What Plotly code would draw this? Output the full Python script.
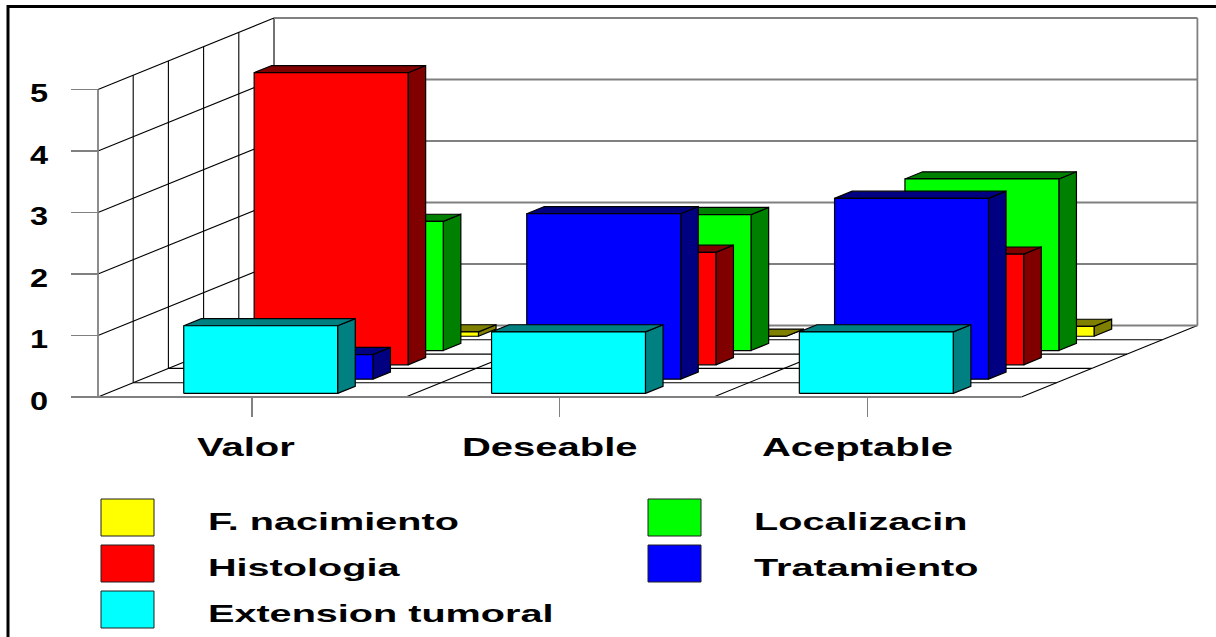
import plotly.graph_objects as go

# Chart data
categories = ["Valor", "Deseable", "Aceptable"]
value_ticks = [0, 1, 2, 3, 4, 5]
extension_tumoral = [1.1, 1.0, 1.0]
tratamiento = [0.4, 2.69, 2.94]
histologia = [4.75, 1.83, 1.8]
localizacion = [2.1, 2.21, 2.79]
f_nacimiento = [0.07, 0.0, 0.16]

# Series from the front row of the floor to the back row
rows = [
    ("Extension tumoral", extension_tumoral, "#00FFFF", "#008080"),
    ("Tratamiento", tratamiento, "#0000FF", "#000080"),
    ("Histologia", histologia, "#FF0000", "#800000"),
    ("Localizacin", localizacion, "#00FF00", "#008000"),
    ("F. nacimiento", f_nacimiento, "#FFFF00", "#808000"),
]

W, H = 1216, 637
UNIT_X, UNIT_Y = 307.8, 61.5      # pixels per category / per value unit
LEFT, BASE = 98.0, 397.0          # pixel position of the front-left floor corner
DX = 35.2 / UNIT_X                # oblique shift per row, in category units
DY = 14.3 / UNIT_Y                # oblique shift per row, in value units
N_ROWS = len(rows)
X_MIN, X_MAX = -0.5, len(categories) - 0.5
TOP = value_ticks[-1]
GREY = "#808080"


def project(cat, value, depth):
    """Oblique projection of (category, value, row depth) to axis coordinates."""
    return cat + DX * depth, value + DY * depth


fig = go.Figure()


def polyline(points, color, width):
    xs, ys = zip(*[project(*p) for p in points])
    fig.add_trace(go.Scatter(x=xs, y=ys, mode="lines", showlegend=False, hoverinfo="skip",
                             line=dict(color=color, width=width)))


def polygon(points, fill, name):
    xs, ys = zip(*[project(*p) for p in points])
    fig.add_trace(go.Scatter(x=list(xs) + [xs[0]], y=list(ys) + [ys[0]], mode="lines", fill="toself",
                             fillcolor=fill, name=name, showlegend=False, hoverinfo="skip",
                             line=dict(color="#000000", width=1.2)))


# Left wall and floor
for d in range(1, N_ROWS):
    polyline([(X_MIN, 0, d), (X_MIN, TOP, d)], "#000000", 1.1)
    polyline([(X_MIN, 0, d), (X_MAX, 0, d)], "#000000", 1.1)
polyline([(X_MIN, 0, N_ROWS), (X_MIN, TOP, N_ROWS)], "#000000", 1.1)
for v in value_ticks:
    polyline([(X_MIN, v, 0), (X_MIN, v, N_ROWS)], "#000000", 1.1)
for b in range(1, len(categories) + 1):
    polyline([(X_MIN + b, 0, 0), (X_MIN + b, 0, N_ROWS)], "#000000", 1.1)

# Back wall and front edges
for v in value_ticks:
    polyline([(X_MIN, v, N_ROWS), (X_MAX, v, N_ROWS)], GREY, 1.8)
polyline([(X_MAX, 0, N_ROWS), (X_MAX, TOP, N_ROWS)], GREY, 1.8)
polyline([(X_MIN, 0, 0), (X_MIN, TOP, 0)], GREY, 1.8)
polyline([(X_MIN, 0, 0), (X_MAX, 0, 0)], GREY, 1.8)

# Boxes, painted from the back row forwards
for row in range(N_ROWS - 1, -1, -1):
    name, values, face, dark = rows[row]
    d0, d1 = row + 0.25, row + 0.75
    for c, v in enumerate(values):
        x0, x1 = c - 0.25, c + 0.25
        polygon([(x1, 0, d0), (x1, 0, d1), (x1, v, d1), (x1, v, d0)], dark, name)
        polygon([(x0, v, d0), (x1, v, d0), (x1, v, d1), (x0, v, d1)], dark, name)
        polygon([(x0, 0, d0), (x1, 0, d0), (x1, v, d0), (x0, v, d0)], face, name)


def px(x):
    return x / W


def py(y):
    return 1 - y / H


# Outer frame, legend swatches and legend labels
shapes = [dict(type="rect", xref="paper", yref="paper", x0=px(8), x1=px(W + 10), y0=py(H + 10), y1=py(6.5),
               line=dict(color="#000000", width=3), fillcolor="rgba(0,0,0,0)")]
legend_slots = [
    ("F. nacimiento", "#FFFF00", 101, 206, 499),
    ("Histologia", "#FF0000", 101, 206, 545),
    ("Extension tumoral", "#00FFFF", 101, 206, 591),
    ("Localizacin", "#00FF00", 648, 752, 499),
    ("Tratamiento", "#0000FF", 648, 752, 545),
]
annotations = []
for label, color, sx, tx, sy in legend_slots:
    shapes.append(dict(type="rect", xref="paper", yref="paper", x0=px(sx), x1=px(sx + 53), y0=py(sy + 37), y1=py(sy),
                       fillcolor=color, line=dict(color="#202020", width=1)))
    annotations.append(dict(text=label, xref="paper", yref="paper", x=px(tx), y=py(sy + 22), xanchor="left",
                            yanchor="middle", showarrow=False, font=dict(family="Liberation Sans", size=24,
                                                                         weight=700, color="#000000")))

tick_font = dict(family="Liberation Sans", size=25, weight=700, color="#000000")
fig.update_layout(
    width=W, height=H, margin=dict(l=0, r=0, t=0, b=0), autosize=False,
    paper_bgcolor="#FFFFFF", plot_bgcolor="#FFFFFF", showlegend=False,
    shapes=shapes, annotations=annotations,
    xaxis=dict(range=[-LEFT / UNIT_X - 0.5, (W - LEFT) / UNIT_X - 0.5], domain=[0, 1], anchor="free",
               position=1 - BASE / H, tickmode="array", tickvals=list(range(len(categories))), ticktext=categories,
               ticks="outside", ticklen=19, tickcolor=GREY, tickwidth=1.5, tickfont=tick_font,
               ticklabelstandoff=9, showgrid=False, zeroline=False, showline=False, fixedrange=True),
    yaxis=dict(range=[-(H - BASE) / UNIT_Y, BASE / UNIT_Y], domain=[0, 1], anchor="free",
               position=LEFT / W, tickmode="array", tickvals=value_ticks, ticktext=[str(v) for v in value_ticks],
               ticks="outside", ticklen=27, tickcolor=GREY, tickwidth=1.5, tickfont=tick_font,
               ticklabelstandoff=18, showgrid=False, zeroline=False, showline=False, fixedrange=True),
)

# The lettering is a horizontally stretched bold sans, so widen each label after drawing;
# box outlines get sharp corners rather than the default rounded joins
stretch_script = """
var gd = document.getElementById('{plot_id}');
function widen(sel, factor, keepLeft, dx, dy) {
  gd.querySelectorAll(sel).forEach(function (t, i) {
    if (t.getAttribute('textLength')) return;
    var w = t.getComputedTextLength();
    t.setAttribute('lengthAdjust', 'spacingAndGlyphs');
    t.setAttribute('textLength', w * factor);
    if (keepLeft) t.setAttribute('x', parseFloat(t.getAttribute('x')) + w * (factor - 1) / 2);
    if (dx) t.setAttribute('dx', Array.isArray(dx) ? dx[i] : dx);
    if (dy) t.setAttribute('dy', dy);
  });
}
function finish() {
  widen('.xtick text', 1.6, false, [-6, -10, -10], 0);
  widen('.ytick text', 1.3, false, 0, 4);
  widen('.annotation-text', 1.65, true, 0, 0);
  gd.querySelectorAll('.scatterlayer path').forEach(function (p) {
    p.style.strokeLinejoin = 'miter';
  });
}
finish();
gd.on('plotly_afterplot', finish);
"""

fig.write_html("out.html", post_script=stretch_script, config=dict(displayModeBar=False, staticPlot=True))
